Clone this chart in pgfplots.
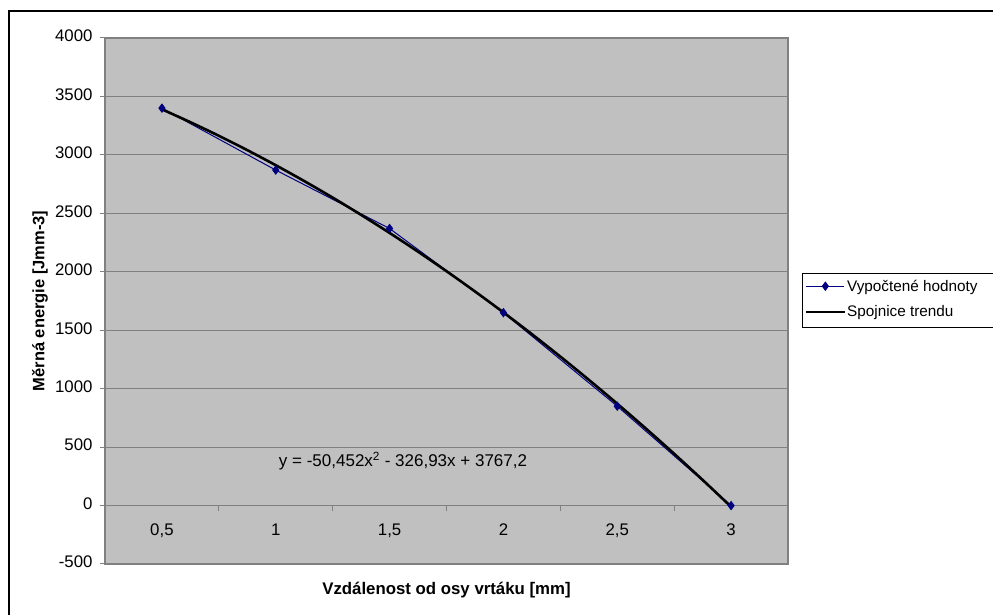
\documentclass[border=0pt]{standalone}
\usepackage{fontspec}
\setmainfont{Liberation Sans}
\usepackage{pgfplots}
\pgfplotsset{compat=1.18}
\definecolor{plotgray}{HTML}{C0C0C0}
\definecolor{gridgray}{HTML}{808080}
\definecolor{navyblue}{HTML}{000080}
\begin{document}
\begin{tikzpicture}[x=1bp,y=1bp]
\path[use as bounding box] (-105,-51) rectangle (888,564);
\fill[white] (-105,-51) rectangle (888,564);
\draw[line width=1.5bp] (-96,-51) -- (-96,553) -- (888,553);
\draw[line width=0.8bp] (888,291) -- (697,291) -- (697,237) -- (888,237);
\begin{axis}[
  at={(0,0)}, anchor=south west,
  width=683bp, height=526bp, scale only axis,
  xmin=0.5, xmax=6.5, ymin=-500, ymax=4000,
  axis x line*=middle, axis y line*=left,
  axis line style={gridgray, line width=1.2bp},
  axis background/.style={fill=plotgray, draw=gridgray, line width=1.2bp},
  xtick={1,2,3,4,5,6},
  xticklabels={{0,5},1,{1,5},2,{2,5},3},
  major x tick style={draw=none},
  minor xtick={0.5,1.5,2.5,3.5,4.5,5.5,6.5},
  minor x tick style={gridgray, line width=1bp},
  minor tick length=5bp,
  ytick={-500,0,500,1000,1500,2000,2500,3000,3500,4000},
  major y tick style={gridgray, line width=1bp},
  major tick length=5bp,
  tick align=outside,
  ymajorgrids,
  major grid style={gridgray, line width=1.2bp},
  /pgf/number format/1000 sep={},
  /pgf/number format/assume math mode=true,
  tick label style={font=\fontsize{16.8bp}{19bp}\selectfont, black},
  typeset ticklabels with strut,
  xticklabel style={yshift=-8bp},
  yticklabel style={xshift=-4bp},
  ylabel={\textbf{Měrná energie [Jmm-3]}},
  xlabel={\textbf{Vzdálenost od osy vrtáku [mm]}},
  every axis y label/.style={at={(rel axis cs:-0.0952,0.5)}, anchor=center, rotate=90, font=\fontsize{16.5bp}{19bp}\selectfont},
  every axis x label/.style={at={(rel axis cs:0.5,-0.0494)}, anchor=center, font=\fontsize{16.8bp}{19bp}\selectfont},
  legend style={at={(rel axis cs:1.0250,0.5038)}, anchor=west, draw=none, fill=none,
    font=\fontsize{15.3bp}{18bp}\selectfont, inner sep=0pt, outer sep=0pt, row sep=13bp,
    nodes={inner xsep=1.5bp, inner ysep=0bp}},
  legend cell align=left,
  legend image code/.code={\draw[mark repeat=2,mark phase=2,#1] plot coordinates {(0bp,0bp)(19bp,0bp)(38bp,0bp)};},
  clip=false,
]
\addplot[navyblue, line width=1bp, mark=diamond*, mark size=4bp, mark options={fill=navyblue, draw=navyblue}]
  coordinates {(1,3400) (2,2870) (3,2370) (4,1650) (5,850) (6,0)};
\addlegendentry{Vypočtené hodnoty}
\addplot[black, line width=2.6bp, smooth]
  coordinates {(1,3389.818) (1.25,3279.706) (1.5,3163.288) (1.75,3040.564) (2,2911.532)
  (2.25,2776.195) (2.5,2634.55) (2.75,2486.600) (3,2332.342) (3.25,2171.779) (3.5,2004.908)
  (3.75,1831.731) (4,1652.248) (4.25,1466.458) (4.5,1274.362) (4.75,1075.959) (5,871.25)
  (5.25,660.234) (5.5,442.912) (5.75,219.283) (6,-10.652)};
\addlegendentry{Spojnice trendu}
\node[font=\fontsize{17bp}{19bp}\selectfont] at (axis cs:3.118,381) {y = -50,452x\textsuperscript{2} - 326,93x + 3767,2};
\end{axis}
\end{tikzpicture}
\end{document}
